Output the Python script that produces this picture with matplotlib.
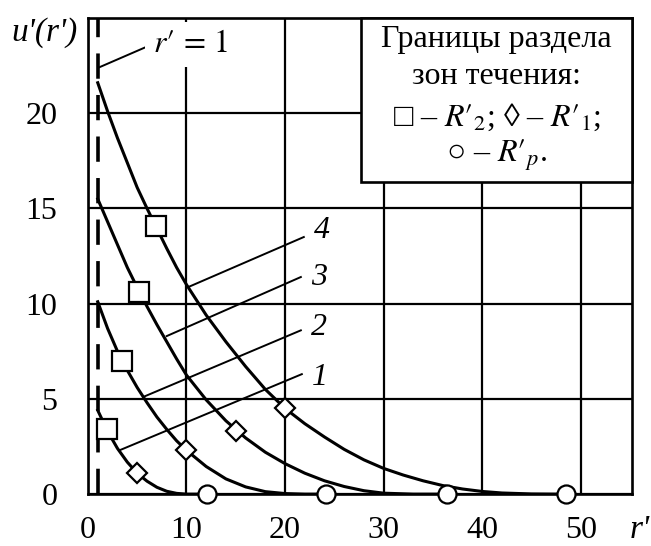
import matplotlib
matplotlib.use('Agg')
import matplotlib.pyplot as plt
from matplotlib.patches import Rectangle

plt.rcParams['font.family'] = ['Liberation Serif', 'DejaVu Serif']
plt.rcParams['mathtext.fontset'] = 'stix'

# curves u'(r')
r1 = [1, 1.5, 2, 3, 4, 5, 6, 7, 8, 9, 10, 12]
u1 = [4.4, 3.85, 3.3, 2.4, 1.68, 1.1, 0.68, 0.36, 0.15, 0.04, 0.0, 0.0]
r2 = [1, 2, 3, 4, 5, 6, 7, 8, 9, 10, 12, 14, 16, 18, 20, 22, 24]
u2 = [10.1, 8.7, 7.5, 6.5, 5.6, 4.8, 4.05, 3.4, 2.8, 2.3, 1.45, 0.8, 0.38, 0.13, 0.03, 0, 0]
r3 = [1, 2, 3, 4, 5, 6, 7, 8, 9, 10, 12, 14, 16, 18, 20, 22, 24, 26, 28, 30, 33, 36]
u3 = [15.5, 14.3, 13.1, 11.9, 10.85, 9.85, 8.9, 8.0, 7.1, 6.25, 4.95, 3.85, 2.95, 2.2,
      1.6, 1.1, 0.7, 0.4, 0.18, 0.05, 0, 0]
r4 = [1, 2, 3, 4, 5, 6, 7, 8, 9, 10, 12, 14, 16, 18, 20, 22, 24, 26, 28, 30, 32, 34,
      36, 38, 40, 42, 45, 48]
u4 = [21.6, 20.1, 18.7, 17.4, 16.1, 15.0, 13.95, 12.9, 11.9, 11.0, 9.4, 8.0, 6.7, 5.5,
      4.5, 3.7, 3.0, 2.35, 1.8, 1.35, 1.0, 0.7, 0.45, 0.27, 0.14, 0.06, 0.01, 0]

# zone boundaries
sq_r = [1.9, 3.5, 5.2, 6.9]          # R'_2
sq_u = [3.4, 7.0, 10.6, 14.1]
dia_r = [5.0, 10.0, 15.0, 20.0]      # R'_1
dia_u = [1.1, 2.3, 3.3, 4.5]
circ_r = [12.1, 24.2, 36.4, 48.5]    # R'_p
circ_u = [0, 0, 0, 0]

# curve labels: name, point on curve, end of leader, text spot
lab_names = ['1', '2', '3', '4']
lab_from = [(3.2, 2.3), (5.6, 5.1), (8.0, 8.3), (10.3, 10.9)]
lab_to = [(21.7, 6.3), (21.6, 8.6), (21.6, 11.4), (21.9, 13.5)]
lab_txt = [(22.7, 6.1), (22.6, 8.75), (22.6, 11.4), (22.9, 13.85)]

fs = 23

fig = plt.figure(figsize=(6.51, 5.46), dpi=100)
ax = fig.add_axes([0.135, 0.095, 0.836, 0.872])

ax.set_xlim(0, 55.2)
ax.set_ylim(0, 25)
ax.set_xticks([0, 10, 20, 30, 40, 50])
ax.set_yticks([0, 5, 10, 15, 20])
ax.tick_params(length=0, labelsize=fs)
ax.tick_params(axis='x', pad=16)
ax.tick_params(axis='y', pad=22)
ax.grid(color='black', linewidth=1.6)
for s in ax.spines.values():
    s.set_linewidth(1.9)

for r, u in [(r1, u1), (r2, u2), (r3, u3), (r4, u4)]:
    ax.plot(r, u, color='black', linewidth=2.2, zorder=3)

ax.axvline(1, color='black', linewidth=2.6, linestyle=(0, (7, 4.5)), zorder=3)

for (x0, y0), (x1, y1), (tx, ty), name in zip(lab_from, lab_to, lab_txt, lab_names):
    ax.plot([x0, x1], [y0, y1], color='black', linewidth=1.4, zorder=3)
    ax.text(tx, ty, name, fontsize=fs, fontstyle='italic', ha='left', va='center')

mk = dict(linestyle='none', markerfacecolor='white', markeredgecolor='black',
          markeredgewidth=1.6, zorder=5, clip_on=False)
ax.plot(sq_r, sq_u, marker='s', markersize=14, **mk)
ax.plot(dia_r, dia_u, marker='D', markersize=10, **mk)
ax.plot(circ_r, circ_u, marker='o', markersize=13, **mk)

# r' = 1 note
ax.plot([1.1, 6.0], [22.4, 23.5], color='black', linewidth=1.4, zorder=4)
ax.text(6.6, 23.6, r"$r\prime\,=\,1$", fontsize=fs, ha='left', va='center', zorder=4,
        bbox=dict(boxstyle='square,pad=0.25', facecolor='white', edgecolor='none'))

# boundary key box
ax.add_patch(Rectangle((0.502, 0.656), 0.498, 0.344, transform=ax.transAxes,
                       facecolor='white', edgecolor='black', linewidth=1.9,
                       zorder=6, clip_on=False))
cx = 0.751
ax.text(cx, 0.955, 'Границы раздела', transform=ax.transAxes, fontsize=fs,
        ha='center', va='center', zorder=7)
ax.text(cx, 0.878, 'зон течения:', transform=ax.transAxes, fontsize=fs,
        ha='center', va='center', zorder=7)
ax.text(cx, 0.792, r"□ – $R\prime_2$; ◊ – $R\prime_1$;", transform=ax.transAxes,
        fontsize=fs, ha='center', va='center', zorder=7)
ax.text(cx, 0.712, r"○ – $R\prime_p$.", transform=ax.transAxes, fontsize=fs,
        ha='center', va='center', zorder=7)

fig.text(0.069, 0.941, "u'(r')", fontsize=24, fontstyle='italic', ha='center', va='center')
fig.text(0.982, 0.03, "r'", fontsize=24, fontstyle='italic', ha='center', va='center')

fig.savefig('out.png', dpi=100)
